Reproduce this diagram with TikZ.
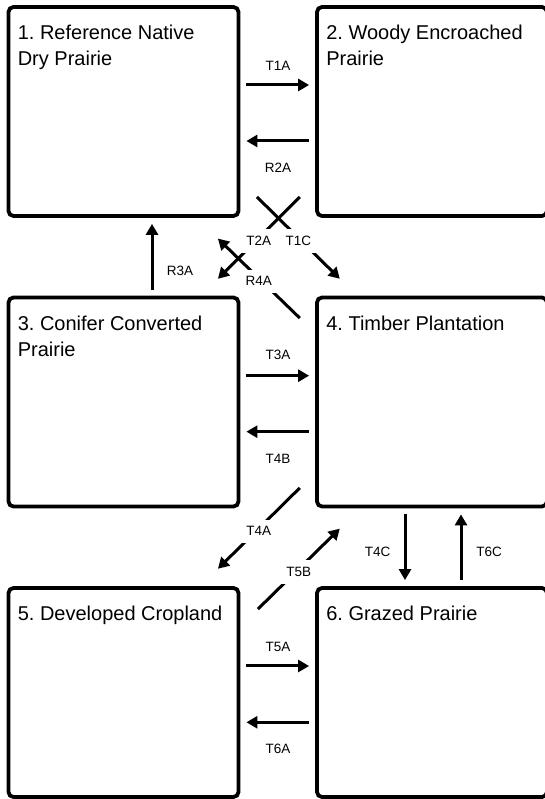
\documentclass[tikz,border=0pt]{standalone}
\usepackage{fontspec}
\setmainfont{Liberation Sans}
\usetikzlibrary{arrows.meta}
\frenchspacing

\begin{document}
\begin{tikzpicture}[x=1pt,y=1pt,>={Triangle[length=11pt,width=12pt]},
  statebox/.style={draw,line width=3.8pt,rounded corners=5pt,minimum width=230pt,minimum height=209pt,inner sep=0pt},
  boxtitle/.style={anchor=north west,inner sep=0pt,align=left,font=\fontsize{20}{26}\selectfont},
  lbl/.style={font=\fontsize{13.5}{15}\selectfont,inner sep=0pt},
  gaplbl/.style={lbl,fill=white,inner sep=7pt,yshift=-3pt},
  trans/.style={->,line width=3pt,shorten <=6pt,shorten >=6pt},
  diag/.style={->,line width=3pt}]
\useasboundingbox (0,0) rectangle (545,799);
\clip (0,0) rectangle (545,799);

% states
\node[statebox] (s1) at (123.5,687.5) {};
\node[statebox] (s2) at (432,687.5) {};
\node[statebox] (s3) at (123.5,397) {};
\node[statebox] (s4) at (432,397) {};
\node[statebox] (s5) at (123.5,106.5) {};
\node[statebox] (s6) at (432,106.5) {};

\foreach \i/\txt in {1/{1. Reference Native\\Dry Prairie},2/{2. Woody Encroached\\Prairie},
  3/{3. Conifer Converted\\Prairie},4/{4. Timber Plantation},5/{5. Developed Cropland},6/{6. Grazed Prairie}}
{
    \node[boxtitle] (n\i) at ([shift={(11,-20)}]s\i.north west) {\txt};
}

% left/right transitions
\draw[trans] (s1.east |- 0,714) -- (s2.west |- 0,714);
\draw[trans] (s2.west |- 0,658) -- (s1.east |- 0,658);
\draw[trans] (s3.east |- 0,423.3) -- (s4.west |- 0,423.3);
\draw[trans] (s4.west |- 0,367.3) -- (s3.east |- 0,367.3);
\draw[trans] (s5.east |- 0,133) -- (s6.west |- 0,133);
\draw[trans] (s6.west |- 0,76.7) -- (s5.east |- 0,76.7);

% up/down transitions
\draw[trans] (s3.north -| 152,0) -- (s1.south -| 152,0);
\draw[trans] (s4.south -| 405,0) -- (s6.north -| 405,0);
\draw[trans] (s6.north -| 461,0) -- (s4.south -| 461,0);

% crossing transitions
\draw[diag] ([shift={(16.5,21)}]s1.south east) -- node[gaplbl]{T1C} ([shift={(24.7,16.8)}]s4.north west);
\draw[diag] ([shift={(-15.3,21)}]s2.south west) -- node[gaplbl]{T2A} ([shift={(-22.5,16.8)}]s3.north east);
\draw[diag] ([shift={(-15.3,-22.5)}]s4.north west) -- node[gaplbl]{R4A} ([shift={(-22.5,-20.7)}]s1.south east);
\draw[diag] ([shift={(-15.3,20.5)}]s4.south west) -- node[gaplbl]{T4A} ([shift={(-22.5,17.3)}]s5.north east);
\draw[diag] ([shift={(17.5,-23)}]s5.north east) -- node[gaplbl]{T5B} ([shift={(24.7,-20.2)}]s4.south west);

\node[lbl] (lt1a) at (278,733.3) {T1A};
\node[lbl] (lr2a) at (278,631) {R2A};
\node[lbl] (lt3a) at (278,444) {T3A};
\node[lbl] (lt4b) at (278,340) {T4B};
\node[lbl] (lt5a) at (278,152.3) {T5A};
\node[lbl] (lt6a) at (278,50) {T6A};
\node[lbl] (lr3a) at (180,528) {R3A};
\node[lbl] (lt4c) at (377.5,247) {T4C};
\node[lbl] (lt6c) at (489,247.3) {T6C};

\end{tikzpicture}
\end{document}
